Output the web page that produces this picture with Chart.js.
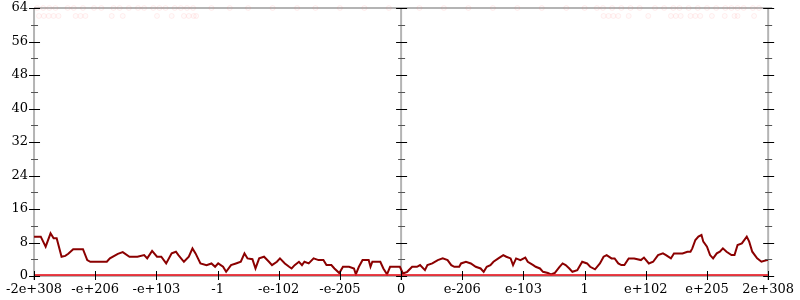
<!DOCTYPE html>
<html>
<head>
<meta charset="utf-8">
<script src="https://cdn.jsdelivr.net/npm/chart.js@4.4.1/dist/chart.umd.min.js"></script>
<style>
  html, body { margin: 0; padding: 0; background: #fff; }
</style>
</head>
<body>
<canvas id="hist" width="800" height="300"></canvas>
<script>
// tick labels along the (log-like) x axis, one per unit
let xTickLabels = ['-2e+308', '-e+206', '-e+103', '-1', '-e-102', '-e-205', '0',
                   'e-206', 'e-103', '1', 'e+102', 'e+205', '2e+308'];
let yMax = 64;
let yStep = 8;

// main series: position on the x axis (tick units) and count
let histX = [0, 0.11, 0.19, 0.27, 0.32, 0.37, 0.45, 0.51, 0.56, 0.64, 0.80, 0.87, 0.92, 1.19, 1.24,
  1.37, 1.45, 1.56, 1.69, 1.80, 1.85, 1.93, 2.01, 2.08, 2.16, 2.25, 2.32, 2.36, 2.45, 2.53,
  2.59, 2.64, 2.72, 2.82, 2.90, 2.96, 3.01, 3.09, 3.14, 3.22, 3.30, 3.38, 3.44, 3.49, 3.57,
  3.62, 3.68, 3.76, 3.84, 3.89, 3.97, 4.02, 4.10, 4.17, 4.21, 4.26, 4.33, 4.38, 4.42, 4.49,
  4.57, 4.65, 4.73, 4.78, 4.86, 4.91, 4.99, 5.05, 5.15, 5.23, 5.26, 5.31, 5.37, 5.47, 5.50,
  5.53, 5.66, 5.71, 5.77, 5.82, 5.90, 5.98, 6.03, 6.10, 6.18, 6.26, 6.31, 6.39, 6.43, 6.51,
  6.60, 6.68, 6.76, 6.82, 6.87, 6.95, 6.98, 7.06, 7.14, 7.22, 7.30, 7.35, 7.40, 7.46, 7.51,
  7.59, 7.67, 7.72, 7.79, 7.83, 7.88, 7.95, 8.03, 8.07, 8.16, 8.20, 8.27, 8.32, 8.40, 8.45,
  8.51, 8.59, 8.64, 8.69, 8.75, 8.80, 8.88, 8.96, 9.04, 9.09, 9.17, 9.25, 9.31, 9.36, 9.44,
  9.49, 9.55, 9.60, 9.65, 9.72, 9.81, 9.92, 9.97, 10.05, 10.12, 10.20, 10.28, 10.33, 10.41, 10.46,
  10.60, 10.68, 10.73, 10.76, 10.81, 10.86, 10.91, 10.94, 11.00, 11.05, 11.10, 11.16, 11.21, 11.26, 11.32,
  11.40, 11.45, 11.50, 11.57, 11.65, 11.69, 11.74, 11.82, 11.89, 11.98, 12];
let histY = [9.4, 9.4, 7.0, 10.2, 9.0, 9.0, 4.6, 4.8, 5.3, 6.4, 6.4, 3.8, 3.4, 3.4, 4.2,
  5.3, 5.7, 4.6, 4.6, 5.0, 4.2, 6.0, 4.6, 4.6, 3.0, 5.4, 5.8, 5.0, 3.4, 4.6,
  6.6, 5.4, 3.0, 2.6, 3.0, 2.2, 3.0, 2.2, 1.0, 2.6, 3.0, 3.4, 5.4, 4.2, 4.0,
  1.8, 4.2, 4.6, 3.4, 2.6, 3.4, 4.2, 3.0, 2.2, 1.8, 2.6, 3.4, 2.6, 3.4, 3.0,
  4.2, 3.8, 3.8, 2.6, 2.6, 1.8, 0.7, 2.2, 2.2, 1.8, 0.4, 2.2, 3.8, 3.8, 2.2,
  3.4, 3.4, 1.8, 0.4, 2.2, 2.2, 2.2, 0.6, 1.0, 2.2, 2.2, 2.6, 1.4, 2.6, 3.0,
  3.8, 4.2, 3.8, 2.6, 2.2, 2.2, 3.0, 3.4, 3.0, 2.2, 1.8, 1.0, 2.2, 2.6, 3.4,
  4.2, 5.0, 4.6, 4.2, 2.6, 4.2, 3.8, 4.4, 3.4, 2.6, 2.2, 1.8, 1.0, 0.7, 0.4,
  0.7, 2.2, 3.0, 2.6, 1.8, 1.0, 1.4, 3.4, 3.0, 2.2, 1.6, 3.0, 4.6, 5.0, 4.2,
  4.2, 3.0, 2.6, 2.6, 4.2, 4.2, 3.8, 4.4, 3.0, 3.4, 5.0, 5.4, 5.0, 4.2, 5.4,
  5.4, 5.8, 5.8, 6.6, 8.6, 9.4, 9.8, 8.2, 7.0, 5.0, 4.2, 5.4, 5.8, 6.6, 5.8,
  5.0, 5.0, 7.4, 7.8, 9.4, 8.2, 5.8, 4.2, 3.4, 3.8, 3.8];

// faint marks near the top
let capTopX = [0.05, 0.15, 0.25, 0.35, 0.55, 0.65, 0.8, 0.98, 1.1, 1.3, 1.4, 1.55, 1.7, 1.8,
  1.95, 2.05, 2.15, 2.3, 2.4, 2.5, 2.6, 2.9, 3.2, 3.5, 3.9, 4.3, 4.6, 5.0, 5.4, 5.8,
  6.3, 6.7, 7.1, 7.5, 7.9, 8.3, 8.7, 9.0, 9.2, 9.3, 9.45, 9.6, 9.75, 9.9, 10.15, 10.3,
  10.45, 10.55, 10.7, 10.85, 11.0, 11.15, 11.3, 11.4, 11.5, 11.6, 11.75, 11.85];
let capLowX = [0.08, 0.16, 0.24, 0.32, 0.40, 0.68, 0.76, 0.84, 1.27, 1.45, 2.01, 2.25, 2.45,
  2.53, 2.61, 2.65, 9.31, 9.39, 9.47, 9.55, 9.72, 10.04, 10.41, 10.49, 10.57, 10.73, 10.81,
  10.89, 11.08, 11.29, 11.45, 11.50, 11.77];
let capTopY = 64;
let capLowY = 62.1;

function pts(xs, ys) {
  return xs.map(function(x, i) { return {x: x, y: Array.isArray(ys) ? ys[i] : ys}; });
}

// axis lines, ticks on the left, centre and right
var axesPlugin = {
  id: 'axes',
  beforeDatasetsDraw: function(chart) {
    var c = chart.ctx, a = chart.chartArea, xs = chart.scales.x;
    c.save();
    c.strokeStyle = '#b4b4b4';
    c.lineWidth = 2;
    c.beginPath();
    c.moveTo(a.left, a.top); c.lineTo(a.right + 4, a.top);
    c.moveTo(a.left, a.bottom); c.lineTo(a.right, a.bottom);
    [a.left, xs.getPixelForValue(6), a.right].forEach(function(px) {
      c.moveTo(px, a.top); c.lineTo(px, a.bottom + 4);
    });
    c.stroke();
    c.restore();
  },
  afterDatasetsDraw: function(chart) {
    var c = chart.ctx, a = chart.chartArea, xs = chart.scales.x, ys = chart.scales.y;
    var cols = [a.left, xs.getPixelForValue(6), a.right];
    c.save();
    c.lineWidth = 1;
    for (var v = 0; v <= yMax; v += yStep / 2) {
      var py = Math.round(ys.getPixelForValue(v)) + 0.5;
      var major = v % yStep === 0;
      var len = major ? 5 : 3;
      c.strokeStyle = major ? '#000' : '#555';
      c.beginPath();
      cols.forEach(function(px) { c.moveTo(px - len, py); c.lineTo(px + len + 1, py); });
      c.stroke();
    }
    c.strokeStyle = '#000';
    c.beginPath();
    xTickLabels.forEach(function(l, i) {
      var px = Math.round(xs.getPixelForValue(i)) + 0.5;
      c.moveTo(px, a.bottom - 5); c.lineTo(px, a.bottom + 4);
    });
    c.stroke();
    c.restore();
  }
};

var ctx = document.getElementById('hist').getContext('2d');
var chart = new Chart(ctx, {
  type: 'scatter',
  data: {
    datasets: [{
      // zero line
      data: pts([0, 12], 0),
      showLine: true,
      borderColor: 'rgba(232, 30, 40, 0.85)',
      borderWidth: 4,
      pointRadius: 0,
      order: 0
    }, {
      data: pts(histX, histY),
      showLine: true,
      borderColor: '#8b0000',
      borderWidth: 2,
      pointRadius: 0,
      order: 1
    }, {
      data: pts(capTopX, capTopY).concat(pts(capLowX, capLowY)),
      pointRadius: 2.5,
      pointBorderWidth: 1,
      pointBackgroundColor: 'rgba(255, 170, 170, 0.05)',
      pointBorderColor: 'rgba(255, 90, 90, 0.09)',
      clip: false,
      order: 2
    }]
  },
  plugins: [axesPlugin],
  options: {
    responsive: false,
    animation: false,
    layout: { padding: { top: 8, right: 26, left: 0, bottom: 0 } },
    plugins: { legend: { display: false }, tooltip: { enabled: false } },
    scales: {
      x: {
        type: 'linear',
        min: 0,
        max: 12,
        grid: { display: false, drawTicks: false },
        border: { display: false },
        afterFit: function(s) { s.height = 24; },
        ticks: {
          stepSize: 1,
          padding: 6,
          maxRotation: 0,
          autoSkip: false,
          color: '#000',
          font: { family: 'DejaVu Serif', size: 13 },
          callback: function(v) { return xTickLabels[v]; }
        }
      },
      y: {
        min: 0,
        max: yMax,
        grid: { display: false, drawTicks: false },
        border: { display: false },
        afterFit: function(s) { s.width = 28; s.paddingTop = 0; s.paddingBottom = 0; },
        ticks: {
          stepSize: yStep,
          padding: 6,
          color: '#000',
          font: { family: 'DejaVu Serif', size: 13 }
        }
      }
    }
  }
});
</script>
</body>
</html>
